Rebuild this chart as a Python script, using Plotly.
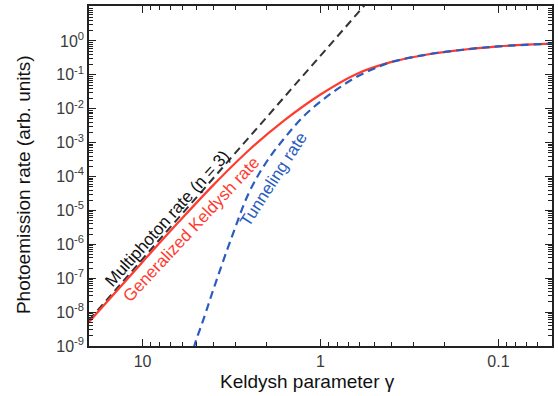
import plotly.graph_objects as go

# Keldysh parameter grid (gamma) and photoemission rates read as log10 values
gamma_keldysh = [20, 10, 6.31, 3.98, 2.51, 1.585, 1.0, 0.631, 0.398, 0.251, 0.158, 0.1, 0.05]
log_rate_keldysh = [-8.29, -6.52, -5.36, -4.24, -3.21, -2.33, -1.58, -0.98, -0.62, -0.40, -0.26, -0.16, -0.08]

gamma_multiphoton = [20, 0.5]
log_rate_multiphoton = [-8.24, 1.37]

gamma_tunnel = [5.62, 5.12, 4.47, 3.98, 3.16, 2.51, 2.0, 1.585, 1.259, 1.0, 0.794, 0.631, 0.501, 0.398,
                0.251, 0.158, 0.1, 0.05]
log_rate_tunnel = [-9.8, -9.0, -8.1, -7.3, -5.8, -4.45, -3.55, -2.85, -2.25, -1.79, -1.40, -1.07, -0.82, -0.62,
                   -0.40, -0.26, -0.16, -0.08]

y_tick_exponents = [-9, -8, -7, -6, -5, -4, -3, -2, -1, 0]
x_tick_values = [10, 1, 0.1]
x_tick_labels = ["10", "1", "0.1"]

RED = "#ff3b30"
BLUE = "#2a5cbf"
BLACK = "#333333"
FONT = "Liberation Sans, Arial, sans-serif"

def pow10(vals):
    return [10 ** v for v in vals]

fig = go.Figure()
fig.add_trace(go.Scatter(x=gamma_multiphoton, y=pow10(log_rate_multiphoton), mode="lines",
                         line=dict(color=BLACK, width=2, dash="8px,5px"), showlegend=False))
fig.add_trace(go.Scatter(x=gamma_keldysh, y=pow10(log_rate_keldysh), mode="lines",
                         line=dict(color=RED, width=2.2, shape="spline"), showlegend=False))
fig.add_trace(go.Scatter(x=gamma_tunnel, y=pow10(log_rate_tunnel), mode="lines",
                         line=dict(color=BLUE, width=2.2, dash="8px,5px", shape="spline"), showlegend=False))

# minor tick positions at 2..9 within each decade
x_minor = [m * 10 ** k for k in (-2, -1, 0, 1) for m in range(2, 10)]
y_minor = [m * 10 ** k for k in range(-9, 1) for m in range(2, 10)]

axis_common = dict(showgrid=False, zeroline=False, showline=True, linecolor="#222222", linewidth=1.5,
                   mirror="ticks", ticks="inside", tickcolor="#222222", tickwidth=1.3,
                   tickfont=dict(family=FONT, size=16, color="#3a3a3a"))

fig.update_xaxes(type="log", range=[1.301, -1.301], tickvals=x_tick_values, ticktext=x_tick_labels,
                 ticklen=7, minor=dict(tickvals=x_minor, ticks="inside", ticklen=4, tickcolor="#222222"),
                 **axis_common)
fig.update_yaxes(type="log", range=[-9, 1.03], tickvals=pow10(y_tick_exponents),
                 ticktext=[f"10<sup>{e}</sup>" for e in y_tick_exponents], ticklen=7,
                 minor=dict(tickvals=y_minor, ticks="inside", ticklen=4, tickcolor="#222222"),
                 **axis_common)

annotations = [
    dict(text="Multiphoton rate (n = 3)", x=0.169, y=0.376, color="#111111", angle=-48),
    dict(text="Generalized Keldysh rate", x=0.221, y=0.342, color=RED, angle=-47),
    dict(text="Tunneling rate", x=0.398, y=0.491, color=BLUE, angle=-57),
]
for a in annotations:
    fig.add_annotation(text=a["text"], x=a["x"], y=a["y"], xref="paper", yref="paper",
                       showarrow=False, textangle=a["angle"], xanchor="center", yanchor="middle",
                       font=dict(family=FONT, size=17, color=a["color"]))

fig.add_annotation(text="Keldysh parameter γ", x=308, y=382, xref="paper", yref="paper",
                   showarrow=False, font=dict(family=FONT, size=19, color="#111111"))
fig.add_annotation(text="Photoemission rate (arb. units)", x=24, y=184, xref="paper", yref="paper",
                   showarrow=False, textangle=-90, font=dict(family=FONT, size=19, color="#111111"))

# convert the two title positions from pixel to paper units
L, R, T, B, W, H = 89, 5, 4, 50, 558, 396
pw, ph = W - L - R, H - T - B
for ann in fig.layout.annotations[-2:]:
    ann.x = (ann.x - L) / pw
    ann.y = (H - B - ann.y) / ph
    ann.xanchor = "center"
    ann.yanchor = "middle"

fig.update_layout(width=W, height=H, margin=dict(l=L, r=R, t=T, b=B),
                  paper_bgcolor="white", plot_bgcolor="white",
                  font=dict(family=FONT))
fig.write_html("out.html")
